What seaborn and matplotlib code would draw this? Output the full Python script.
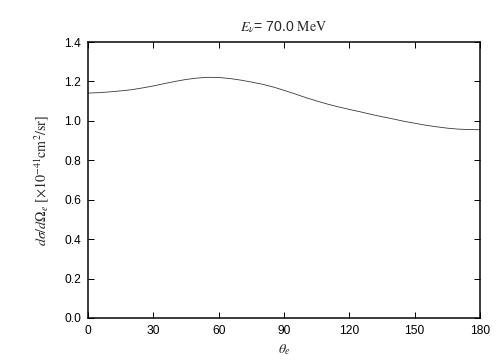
import pandas as pd
import matplotlib
matplotlib.use("Agg")
import matplotlib.pyplot as plt
import seaborn as sns

theta = [0, 5, 10, 15, 20, 25, 30, 35, 40, 45, 50, 55, 60, 65, 70, 75, 80, 85, 90,
         95, 100, 105, 110, 115, 120, 125, 130, 135, 140, 145, 150, 155, 160, 165,
         170, 175, 180]
xsec = [1.141, 1.143, 1.147, 1.152, 1.158, 1.167, 1.177, 1.189, 1.200, 1.210,
        1.217, 1.221, 1.220, 1.215, 1.207, 1.197, 1.186, 1.172, 1.155, 1.137,
        1.118, 1.101, 1.085, 1.071, 1.058, 1.046, 1.033, 1.021, 1.010, 0.998,
        0.988, 0.978, 0.970, 0.963, 0.958, 0.956, 0.955]
xticks = [0, 30, 60, 90, 120, 150, 180]
yticks = [0.0, 0.2, 0.4, 0.6, 0.8, 1.0, 1.2, 1.4]

df = pd.DataFrame({'theta': theta, 'xsec': xsec})

sns.set_style("ticks")
plt.rcParams['font.family'] = ['Liberation Sans', 'DejaVu Sans']
plt.rcParams['mathtext.fontset'] = 'stix'

fig = plt.figure(figsize=(7, 5), dpi=72)
ax = fig.add_axes([0.1746, 0.1167, 0.7778, 0.7666])
sns.lineplot(data=df, x='theta', y='xsec', ax=ax, color='#333333', lw=0.8)

ax.set_xlim(0, 180)
ax.set_ylim(0, 1.4)
ax.set_xticks(xticks)
ax.set_yticks(yticks)
ax.set_yticklabels([f"{v:.1f}" for v in yticks])
ax.tick_params(direction='in', top=True, right=True, length=6, width=1,
               labelsize=12, pad=7, colors='black')
for s in ax.spines.values():
    s.set_linewidth(1.5)
    s.set_color('black')

ax.set_title(r'$E_\nu$= 70.0 $\mathrm{MeV}$', fontsize=14, pad=11)
ax.set_xlabel(r'$\theta_e$', fontsize=14, labelpad=5)
ax.set_ylabel(r'$d\sigma/d\Omega_e\ [\times 10^{-41}\mathrm{cm}^2/\mathrm{sr}]$', fontsize=14, labelpad=13)

fig.savefig('out.png', dpi=72)
